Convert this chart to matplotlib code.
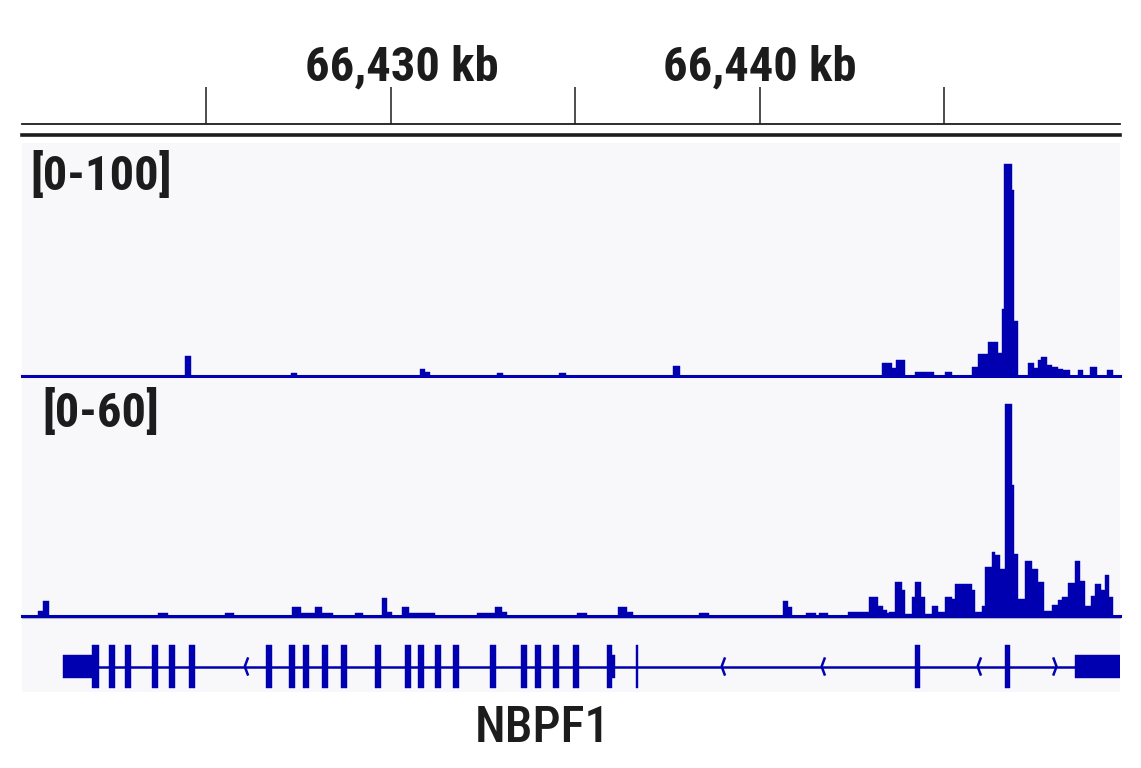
import matplotlib
matplotlib.use('Agg')
import matplotlib.pyplot as plt
from matplotlib import font_manager

W, H = 1141, 768

# genomic window (kb); positions below are offsets from origin_kb
origin_kb = 66420.0
view_kb = (0.0, 29.77)
tick_kb = [5, 10, 15, 20, 25]
tick_text = {10: '66,430 kb', 20: '66,440 kb'}

# track 1, data range [0-100]
t1_range = 100
t1_start = [4.417, 7.290, 10.786, 10.921, 12.873, 14.553, 17.642, 23.306, 23.577,
            23.686, 24.201, 25.014, 25.745, 25.908, 26.179, 26.450, 26.558, 26.612,
            26.829, 26.883, 27.263, 27.425, 27.534, 27.615, 27.778, 27.913, 28.076,
            28.238, 28.618, 28.970, 29.404]
t1_end = [4.580, 7.453, 10.921, 11.057, 13.035, 14.743, 17.832, 23.577, 23.686,
          23.930, 24.715, 25.203, 25.908, 26.179, 26.450, 26.558, 26.612, 26.829,
          26.883, 26.992, 27.425, 27.534, 27.615, 27.778, 27.913, 28.076, 28.238,
          28.401, 28.780, 29.133, 29.593]
t1_val = [8.6, 1.3, 3.0, 1.7, 1.3, 1.3, 4.3, 5.6, 3.4,
          6.9, 1.7, 1.7, 3.9, 9.4, 14.6, 10.0, 28.8, 91.0,
          80.0, 23.6, 5.6, 3.4, 6.9, 8.2, 4.7, 3.9, 3.0,
          2.6, 2.6, 3.9, 2.6]

# track 2, data range [0-60]
t2_range = 60
t2_start = [0.434, 0.569, 3.686, 5.501, 7.317, 7.561, 7.940, 8.130, 9.024, 9.756,
            9.892, 10.298, 10.488, 12.331, 12.818, 13.008, 15.041, 16.152, 16.396,
            18.347, 20.623, 20.759, 21.247, 21.599, 22.385, 22.954, 23.198, 23.333,
            23.442, 23.496, 23.659, 23.848, 23.930, 24.119, 24.201, 24.363, 24.472,
            24.661, 24.824, 25.014, 25.203, 25.285, 25.745, 25.827, 26.016, 26.098,
            26.287, 26.369, 26.504, 26.640, 26.829, 26.883, 26.992, 27.182, 27.371,
            27.534, 27.696, 27.913, 28.076, 28.184, 28.347, 28.537, 28.672, 28.808,
            28.997, 29.079, 29.268, 29.350, 29.485]
t2_end = [0.569, 0.732, 3.957, 5.745, 7.561, 7.940, 8.130, 8.428, 9.241, 9.892,
          10.027, 10.488, 11.192, 12.818, 13.008, 13.144, 15.312, 16.396, 16.558,
          18.618, 20.759, 20.867, 21.518, 21.843, 22.954, 23.198, 23.333, 23.442,
          23.496, 23.659, 23.848, 23.930, 24.119, 24.201, 24.363, 24.472, 24.661,
          24.824, 25.014, 25.203, 25.285, 25.745, 25.827, 26.016, 26.098, 26.287,
          26.369, 26.504, 26.640, 26.829, 26.883, 26.992, 27.182, 27.371, 27.534,
          27.696, 27.913, 28.076, 28.184, 28.347, 28.537, 28.672, 28.808, 28.997,
          29.079, 29.268, 29.350, 29.485, 29.593]
t2_val = [1.3, 3.9, 0.8, 0.8, 2.3, 0.8, 2.3, 0.8, 0.8, 4.8,
          1.1, 2.3, 0.8, 0.8, 2.3, 1.0, 0.8, 2.3, 1.0,
          0.8, 3.9, 2.3, 0.8, 0.8, 1.0, 5.0, 2.6, 1.6,
          0.7, 1.0, 8.9, 6.8, 0.5, 5.0, 8.9, 5.0, 0.5,
          2.6, 1.0, 5.0, 4.3, 8.2, 6.8, 1.0, 2.6, 12.8,
          16.7, 15.8, 12.1, 55.0, 33.9, 16.1, 4.3, 14.3, 12.1,
          8.9, 1.3, 2.8, 4.2, 5.0, 8.7, 14.3, 9.1, 2.6,
          5.2, 8.2, 6.8, 10.6, 5.0]

# NBPF1 gene model
gene_name = 'NBPF1'
utr_start = [1.11, 16.00, 28.54]
utr_end = [1.90, 16.07, 29.76]
exon_start = [1.90, 2.36, 2.79, 3.52, 3.98, 4.53, 6.61, 7.24, 7.62, 8.13, 8.65,
              9.57, 10.38, 10.73, 11.19, 11.68, 12.68, 13.52, 13.90, 14.39, 14.93,
              15.85, 16.66, 24.20, 26.64]
exon_end = [2.09, 2.52, 2.95, 3.69, 4.15, 4.69, 6.78, 7.40, 7.78, 8.29, 8.81,
            9.73, 10.54, 10.89, 11.36, 11.84, 12.85, 13.69, 14.07, 14.55, 15.10,
            16.00, 16.71, 24.36, 26.80]
intron_span = (1.90, 28.54)
arrow_left = [6.04, 18.97, 21.68, 25.91]
arrow_right = [28.05]

blue = '#0000b0'
ink = '#1c1c1c'
bg = '#f8f8fa'

# look for a narrow sans; fall back to a condensed stretch of DejaVu
have = {f.name for f in font_manager.fontManager.ttflist}
narrow = [n for n in ['Liberation Sans Narrow', 'Roboto Condensed',
                      'DejaVu Sans Condensed', 'Noto Sans Condensed',
                      'Open Sans Condensed'] if n in have]
font = narrow[:1] + ['DejaVu Sans']
size_scale = 1.0 if narrow else 0.78

fig = plt.figure(figsize=(W / 100, H / 100), dpi=100)


def px_axes(x0, y0, x1, y1):
    ax = fig.add_axes([x0 / W, 1 - y1 / H, (x1 - x0) / W, (y1 - y0) / H])
    ax.set_axis_off()
    ax.patch.set_alpha(0)
    return ax


def widths(start, end):
    return [e - s for s, e in zip(start, end)]


# panel background
back = px_axes(22, 143, 1120, 692)
back.set_axis_on()
back.patch.set_alpha(1)
back.set_facecolor(bg)
back.set_xticks([])
back.set_yticks([])
for s in back.spines.values():
    s.set_visible(False)

# ruler
ruler = px_axes(22, 40, 1120, 140)
ruler.set_xlim(*view_kb)
ruler.set_ylim(0, 1)
ruler.axhline(0.157, color=ink, lw=1.3, clip_on=False)
ruler.axhline(0.048, color=ink, lw=2.6, clip_on=False)
ruler.vlines(tick_kb, 0.157, 0.53, color=ink, lw=1.1)
label_shift = {10: 0.3, 20: 0.0}
for k, lab in tick_text.items():
    ruler.text(k + label_shift[k], 0.6, lab, ha='center', va='baseline',
               fontsize=35 * size_scale, fontweight='bold', color=ink,
               family=font, fontstretch='condensed')


def signal(ax, start, end, val, rng, label, lx, ly):
    ax.set_xlim(*view_kb)
    ax.set_ylim(0, rng)
    ax.bar(start, val, width=widths(start, end), bottom=0, align='edge',
           color=blue, edgecolor=blue, linewidth=0.3)
    ax.axhline(0, color=blue, lw=2.2, clip_on=False)
    ax.text(lx, ly, label, transform=ax.transAxes, ha='left', va='baseline',
            fontsize=35 * size_scale, fontweight='bold', color=ink, family=font,
            fontstretch='condensed')


t1 = px_axes(22, 143, 1120, 376)
signal(t1, t1_start, t1_end, t1_val, t1_range, '[0-%d]' % t1_range, 0.008, 0.80)

t2 = px_axes(22, 385, 1120, 616)
t2.axhline(-0.6, color='#b8b8c8', lw=0.8, clip_on=False)
signal(t2, t2_start, t2_end, t2_val, t2_range, '[0-%d]' % t2_range, 0.019, 0.82)

# gene track
g = px_axes(22, 636, 1120, 697)
g.set_xlim(*view_kb)
g.set_ylim(-1, 1)
g.hlines(0, *intron_span, color=blue, lw=1.8)
g.bar(exon_start, 1.38, width=widths(exon_start, exon_end), bottom=-0.69,
      align='edge', color=blue, edgecolor=blue, linewidth=0.3)
g.bar(utr_start, 0.76, width=widths(utr_start, utr_end), bottom=-0.38,
      align='edge', color=blue, edgecolor=blue, linewidth=0.3)
for x in arrow_left:
    g.plot([x + 0.08, x, x + 0.08], [0.26, 0, -0.26], color=blue, lw=1.8)
for x in arrow_right:
    g.plot([x - 0.08, x, x - 0.08], [0.26, 0, -0.26], color=blue, lw=1.8)

fig.text(542 / W, 1 - 742 / H, gene_name, ha='center', va='baseline',
         fontsize=36 * size_scale, fontweight='medium', color=ink, family=font,
         fontstretch='condensed')

fig.savefig('out.png', dpi=100, facecolor='white')
